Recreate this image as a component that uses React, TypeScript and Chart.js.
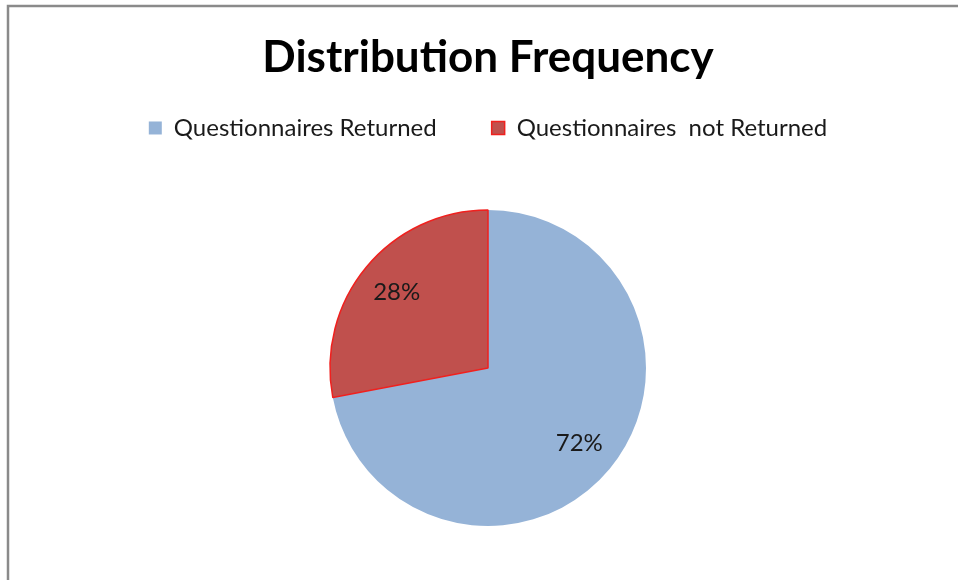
import React, { useEffect, useRef } from "react";
import { Chart, registerables } from "chart.js";

Chart.register(...registerables);

const categories = ["Questionnaires Returned", "Questionnaires  not Returned"];
const values = [72, 28];
const fillColors = ["#95B3D7", "#C0504D"];
const borderColors = ["#95B3D7", "#F0201E"];
const borderWidths = [0, 1.5];
const titleText = "Distribution Frequency";

const framePlugin = {
  id: "frame",
  beforeDraw(chart: any) {
    const ctx = chart.ctx;
    ctx.save();
    ctx.fillStyle = "#ffffff";
    ctx.fillRect(0, 0, chart.width, chart.height);
    ctx.strokeStyle = "#8a8a8a";
    ctx.lineWidth = 2.5;
    ctx.beginPath();
    ctx.moveTo(8, chart.height);
    ctx.lineTo(8, 6);
    ctx.lineTo(chart.width, 6);
    ctx.stroke();
    ctx.restore();
  },
};

const pieLabelPlugin = {
  id: "pieLabels",
  afterDatasetsDraw(chart: any) {
    const ctx = chart.ctx;
    const meta = chart.getDatasetMeta(0);
    const data = chart.data.datasets[0].data as number[];
    const total = data.reduce((a, b) => a + b, 0);
    ctx.save();
    ctx.font = "24px Lato";
    ctx.fillStyle = "#1a1a1a";
    ctx.textAlign = "center";
    ctx.textBaseline = "middle";
    meta.data.forEach((arc: any, i: number) => {
      const { x, y, startAngle, endAngle, outerRadius } = arc.getProps(
        ["x", "y", "startAngle", "endAngle", "outerRadius"],
        true
      );
      const mid = (startAngle + endAngle) / 2;
      const r = outerRadius * 0.75;
      const pct = Math.round((data[i] / total) * 100) + "%";
      ctx.fillText(pct, x + Math.cos(mid) * r, y + Math.sin(mid) * r);
    });
    ctx.restore();
  },
};

export default function App() {
  const ref = useRef<HTMLCanvasElement | null>(null);
  useEffect(() => {
    if (!ref.current) return;
    const chart = new Chart(ref.current, {
      type: "pie",
      data: {
        labels: categories,
        datasets: [
          {
            data: values,
            backgroundColor: fillColors,
            borderColor: borderColors,
            borderWidth: borderWidths,
            radius: 158,
          },
        ],
      },
      options: {
        responsive: false,
        animation: false,
        devicePixelRatio: 1,
        layout: { padding: { top: 0, left: 18, right: 0, bottom: 14 } },
        plugins: {
          title: {
            display: true,
            text: titleText,
            color: "#000000",
            font: { family: "Lato", size: 44, weight: "bold", lineHeight: 0.136 },
            padding: { top: 55, bottom: 0 },
          },
          legend: {
            display: true,
            position: "top",
            labels: {
              color: "#1a1a1a",
              font: { family: "Lato", size: 24 },
              boxWidth: 13,
              boxHeight: 13,
              padding: 55,
            },
          },
          tooltip: { enabled: false },
        },
      },
      plugins: [framePlugin, pieLabelPlugin],
    });
    return () => chart.destroy();
  }, []);
  return (
    <div style={{ position: "fixed", left: 0, top: 0, width: 958, height: 580, overflow: "hidden", background: "#fff" }}>
      <canvas ref={ref} width={958} height={600} style={{ width: 958, height: 600, display: "block" }} />
    </div>
  );
}
